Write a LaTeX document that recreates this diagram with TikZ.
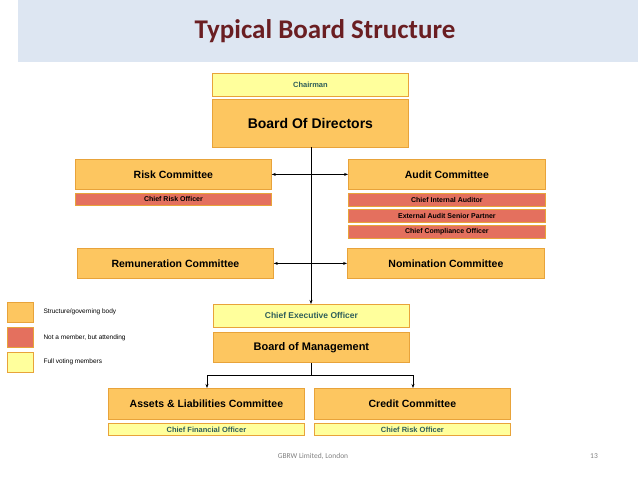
\documentclass[tikz,border=0pt]{standalone}
\usepackage{fontspec}
\setmainfont{Liberation Sans}
\newfontfamily\carfont{Carlito}
\usetikzlibrary{arrows.meta}
\definecolor{org}{HTML}{FDC660}
\definecolor{orgb}{HTML}{E8A33A}
\definecolor{sal}{HTML}{E4705E}
\definecolor{yel}{HTML}{FFFF9C}
\definecolor{teal}{HTML}{2F5E5A}
\definecolor{ttl}{HTML}{6A1E22}
\definecolor{ban}{HTML}{DDE6F2}
\tikzset{
 box/.style={draw=orgb,line width=0.8pt,anchor=north west,inner sep=0pt,font=\bfseries},
 ob/.style={box,fill=org},
 sb/.style={box,fill=sal,font=\bfseries\fontsize{7}{8}\selectfont},
 yb/.style={box,fill=yel,text=teal,font=\bfseries\fontsize{7.5}{9}\selectfont},
 ln/.style={line width=0.6pt},
 ar/.style={ln,-{Stealth[length=4pt,width=3pt]}},
 lg/.style={font=\fontsize{6.5}{8}\selectfont,anchor=west}
}
\begin{document}
\begin{tikzpicture}[x=1pt,y=-1pt]
\useasboundingbox (0,0) rectangle (638,479);
\fill[ban] (18,0) rectangle (638,62);
\node[text=ttl,font=\carfont\bfseries\fontsize{27}{30}\selectfont] (title) at (325,31) {Typical Board Structure};
\node[yb,minimum width=196,minimum height=23] (chair) at (212,73) {Chairman};
\node[ob,minimum width=196,minimum height=48,font=\bfseries\fontsize{14}{16}\selectfont] (bod) at (212,99) {Board Of Directors};
\node[ob,minimum width=196,minimum height=30,font=\bfseries\fontsize{10.5}{12}\selectfont] (risk) at (75,159) {Risk Committee};
\node[sb,minimum width=196,minimum height=12] (cro1) at (75,193) {Chief Risk Officer};
\node[ob,minimum width=197,minimum height=30,font=\bfseries\fontsize{10.5}{12}\selectfont] (audit) at (348,159) {Audit Committee};
\node[sb,minimum width=197,minimum height=13] (cia) at (348,193) {Chief Internal Auditor};
\node[sb,minimum width=197,minimum height=13] (ext) at (348,209) {External Audit Senior Partner};
\node[sb,minimum width=197,minimum height=13] (cco) at (348,225) {Chief Compliance Officer};
\node[ob,minimum width=196,minimum height=30,font=\bfseries\fontsize{10.5}{12}\selectfont] (rem) at (77,248) {Remuneration Committee};
\node[ob,minimum width=197,minimum height=30,font=\bfseries\fontsize{10.5}{12}\selectfont] (nom) at (347,248) {Nomination Committee};
\node[yb,minimum width=196,minimum height=23,font=\bfseries\fontsize{8.5}{10}\selectfont] (ceo) at (213,304) {Chief Executive Officer};
\node[ob,minimum width=196,minimum height=30,font=\bfseries\fontsize{11}{13}\selectfont] (bom) at (213,332) {Board of Management};
\node[ob,minimum width=196,minimum height=31,font=\bfseries\fontsize{10.5}{12}\selectfont] (alc) at (108,388) {Assets \& Liabilities Committee};
\node[ob,minimum width=196,minimum height=31,font=\bfseries\fontsize{10.5}{12}\selectfont] (cc) at (314,388) {Credit Committee};
\node[yb,minimum width=196,minimum height=12] (cfo) at (108,423) {Chief Financial Officer};
\node[yb,minimum width=196,minimum height=12] (cro2) at (314,423) {Chief Risk Officer};
% connectors
\coordinate (top) at (311,147);
\draw[ar] (top) -- (ceo.north -| top);
\draw[ln,{Stealth[length=4pt,width=3pt]}-{Stealth[length=4pt,width=3pt]}] (risk.east) -- (audit.west);
\draw[ln,{Stealth[length=4pt,width=3pt]}-{Stealth[length=4pt,width=3pt]}] (rem.east) -- (nom.west);
\coordinate (j) at (311,375);
\draw[ln] (bom.south -| j) -- (j);
\draw[ar] (j) -| (alc.north -| 207,0);
\draw[ar] (j) -| (cc.north -| 413,0);
% legend
\node[ob,minimum width=26,minimum height=20] (l1) at (7,302) {};
\node[sb,minimum width=26,minimum height=20] (l2) at (7,327) {};
\node[yb,minimum width=26,minimum height=20] (l3) at (7,352) {};
\node[lg] (t1) at (40,312) {Structure/governing body};
\node[lg] (t2) at (40,338) {Not a member, but attending};
\node[lg] (t3) at (40,362) {Full voting members};
\node[text=gray,font=\carfont\fontsize{7.5}{9}\selectfont] (f1) at (313,456) {GBRW Limited, London};
\node[text=gray,font=\carfont\fontsize{7.5}{9}\selectfont] (f2) at (594,456) {13};
\end{tikzpicture}
\end{document}
